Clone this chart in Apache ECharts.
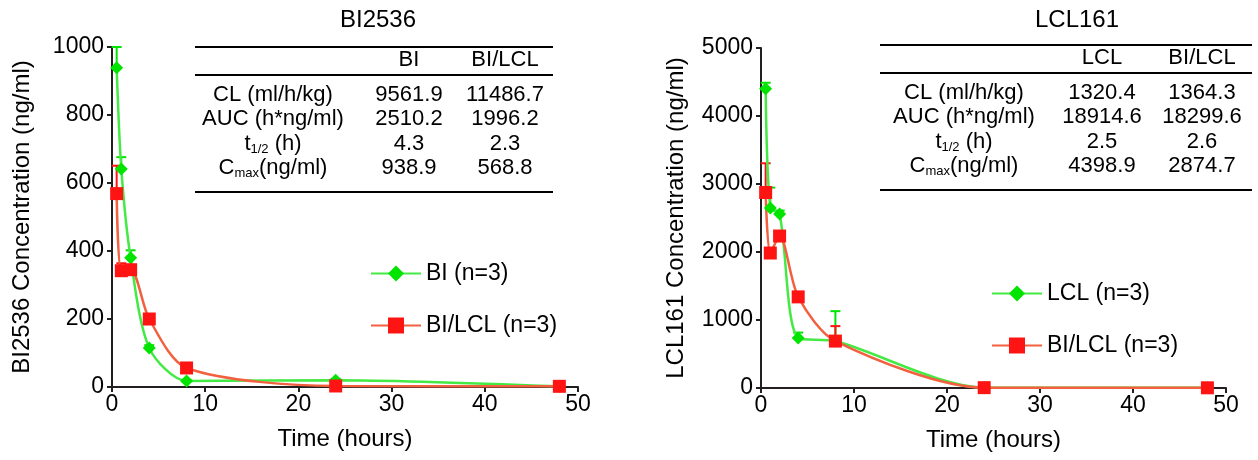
<!DOCTYPE html>
<html>
<head>
<meta charset="utf-8">
<script src="https://cdn.jsdelivr.net/npm/echarts@6/dist/echarts.min.js"></script>
<style>
    html, body { margin: 0; padding: 0; background: #fff; }
    #chart { width: 1258px; height: 460px; }
</style>
</head>
<body>
<div id="chart"></div>
<script>
// sampling times (hours)
var times = [0.5, 1, 2, 4, 8, 24, 48];

// BI2536 plasma concentration (ng/ml), mean and upper SD
var biMono = [938.9, 641, 380, 115, 18, 20, 2];
var biMonoSd = [61, 35, 22, 8, 3, 4, 0];
var biCombo = [568.8, 342, 345, 200, 56, 3, 2];
var biComboSd = [82, 22, 8, 6, 5, 0, 0];

// LCL161 plasma concentration (ng/ml), mean and upper SD
var lclMono = [4398.9, 2647, 2560, 735, 690, 5, 3];
var lclMonoSd = [90, 300, 50, 80, 440, 0, 0];
var lclCombo = [2874.7, 1985, 2235, 1340, 690, 5, 3];
var lclComboSd = [430, 0, 0, 0, 220, 0, 0];

// PK parameter tables
var pkLabels = ['CL (ml/h/kg)', 'AUC (h*ng/ml)', 't{s|1/2} (h)', 'C{s|max}(ng/ml)'];
var biHead = ['BI', 'BI/LCL'];
var biCol1 = ['9561.9', '2510.2', '4.3', '938.9'];
var biCol2 = ['11486.7', '1996.2', '2.3', '568.8'];
var lclHead = ['LCL', 'BI/LCL'];
var lclCol1 = ['1320.4', '18914.6', '2.5', '4398.9'];
var lclCol2 = ['1364.3', '18299.6', '2.6', '2874.7'];

var FONT = '"Liberation Sans", Arial, sans-serif';
var GREEN = '#00e400';
var GREEN_LINE = '#44ea44';
var RED = '#ff1414';
var RED_LINE = '#f2603f';
var AXIS = '#231f20';

function pairs(vals) {
    return times.map(function(t, i) { return [t, vals[i]]; });
}

function errPairs(vals, sds) {
    return times.map(function(t, i) { return [t, vals[i], sds[i]]; });
}

function renderErr(params, api) {
    var x = api.value(0), y = api.value(1), sd = api.value(2);
    if (!sd) return null;
    var p0 = api.coord([x, y]);
    var p1 = api.coord([x, y + sd]);
    var color = api.visual('color');
    return {
        type: 'group',
        children: [
            {type: 'line', shape: {x1: p0[0], y1: p0[1], x2: p1[0], y2: p1[1]}, style: {stroke: color, lineWidth: 2}},
            {type: 'line', shape: {x1: p1[0] - 5, y1: p1[1], x2: p1[0] + 5, y2: p1[1]}, style: {stroke: color, lineWidth: 2}}
        ]
    };
}

function xAxisOf(idx) {
    return {
        gridIndex: idx,
        type: 'value',
        min: 0,
        max: 50,
        interval: 10,
        name: 'Time (hours)',
        nameLocation: 'middle',
        nameGap: 40,
        nameTextStyle: {color: '#000', fontSize: 24, fontFamily: FONT},
        axisLine: {lineStyle: {color: AXIS, width: 2}},
        axisTick: {length: 5, lineStyle: {color: AXIS, width: 2}},
        axisLabel: {color: '#000', fontSize: 23, fontFamily: FONT, margin: 6},
        splitLine: {show: false}
    };
}

function yAxisOf(idx, max, step, name, gap) {
    return {
        gridIndex: idx,
        type: 'value',
        min: 0,
        max: max,
        interval: step,
        name: name,
        nameLocation: 'middle',
        nameGap: gap,
        nameTextStyle: {color: '#000', fontSize: 24, fontFamily: FONT},
        axisLine: {show: true, lineStyle: {color: AXIS, width: 2}},
        axisTick: {show: true, length: 5, lineStyle: {color: AXIS, width: 2}},
        axisLabel: {
            color: '#000', fontSize: 23, fontFamily: FONT, margin: 8,
            formatter: function(v) { return String(v); }
        },
        splitLine: {show: false}
    };
}

function lineSeries(idx, name, vals, symbol, size, color, lineColor) {
    return {
        name: name,
        type: 'line',
        xAxisIndex: idx,
        yAxisIndex: idx,
        data: pairs(vals),
        smooth: 0.28,
        symbol: symbol,
        symbolSize: size,
        showAllSymbol: true,
        itemStyle: {color: color},
        lineStyle: {color: lineColor, width: 2.5},
        z: 3
    };
}

function errSeries(idx, vals, sds, color) {
    return {
        type: 'custom',
        xAxisIndex: idx,
        yAxisIndex: idx,
        data: errPairs(vals, sds),
        renderItem: renderErr,
        itemStyle: {color: color},
        clip: false,
        silent: true,
        z: 2
    };
}

function txt(x, y, text, size) {
    return {
        type: 'text',
        x: x,
        y: y,
        style: {
            text: text,
            fill: '#000',
            font: size + 'px ' + FONT,
            fontSize: size,
            fontFamily: FONT,
            align: 'center',
            textAlign: 'center',
            verticalAlign: 'middle',
            textVerticalAlign: 'middle',
            lineHeight: 24,
            rich: {
                s: {fontSize: 13, fontFamily: FONT, lineHeight: 2, verticalAlign: 'bottom', fill: '#000'}
            }
        }
    };
}

function hline(x1, x2, y) {
    return {type: 'line', shape: {x1: x1, y1: y, x2: x2, y2: y}, style: {stroke: '#000', lineWidth: 2}};
}

function table(cfg) {
    var els = [];
    els.push(txt(cfg.titleX, 20, cfg.title, 24));
    els.push(hline(cfg.x1, cfg.x2, cfg.top));
    els.push(hline(cfg.x1, cfg.x2, cfg.top + 28));
    els.push(hline(cfg.x1, cfg.x2, cfg.top + 145));
    els.push(txt(cfg.c1, cfg.top + 13, cfg.head[0], 22));
    els.push(txt(cfg.c2, cfg.top + 13, cfg.head[1], 22));
    for (var i = 0; i < pkLabels.length; i++) {
        var y = cfg.top + 48 + i * 24.3;
        els.push(txt(cfg.cl, y, pkLabels[i], 22));
        els.push(txt(cfg.c1, y, cfg.col1[i], 22));
        els.push(txt(cfg.c2, y, cfg.col2[i], 22));
    }
    return els;
}

var chart = echarts.init(document.getElementById('chart'));

var graphics = [].concat(
    table({title: 'BI2536', titleX: 378, x1: 195, x2: 553, top: 47, cl: 273, c1: 409, c2: 505,
        head: biHead, col1: biCol1, col2: biCol2}),
    table({title: 'LCL161', titleX: 1077, x1: 880, x2: 1252, top: 45, cl: 964, c1: 1102, c2: 1202,
        head: lclHead, col1: lclCol1, col2: lclCol2})
);

var legendText = {color: '#000', fontSize: 23, fontFamily: FONT};

var option = {
    animation: false,
    backgroundColor: '#fff',
    grid: [
        {left: 112, top: 47, width: 466, height: 340},
        {left: 761, top: 48, width: 465, height: 340}
    ],
    xAxis: [xAxisOf(0), xAxisOf(1)],
    yAxis: [
        yAxisOf(0, 1000, 200, 'BI2536 Concentration (ng/ml)', 78),
        yAxisOf(1, 5000, 1000, 'LCL161 Concentration (ng/ml)', 73)
    ],
    legend: [
        {
            orient: 'vertical', left: 365, top: 257, itemWidth: 50, itemHeight: 20, itemGap: 29,
            textStyle: legendText, data: ['BI (n=3)', 'BI/LCL (n=3)']
        },
        {
            orient: 'vertical', left: 986, top: 277, itemWidth: 50, itemHeight: 20, itemGap: 29,
            textStyle: legendText, data: ['LCL (n=3)', 'BI/LCL (n=3)']
        }
    ],
    graphic: graphics,
    series: [
        errSeries(0, biMono, biMonoSd, GREEN),
        errSeries(0, biCombo, biComboSd, RED),
        lineSeries(0, 'BI (n=3)', biMono, 'diamond', 13, GREEN, GREEN_LINE),
        lineSeries(0, 'BI/LCL (n=3)', biCombo, 'rect', 13, RED, RED_LINE),
        errSeries(1, lclMono, lclMonoSd, GREEN),
        errSeries(1, lclCombo, lclComboSd, RED),
        lineSeries(1, 'LCL (n=3)', lclMono, 'diamond', 13, GREEN, GREEN_LINE),
        lineSeries(1, 'BI/LCL (n=3)', lclCombo, 'rect', 13, RED, RED_LINE)
    ]
};

chart.setOption(option);
</script>
</body>
</html>
